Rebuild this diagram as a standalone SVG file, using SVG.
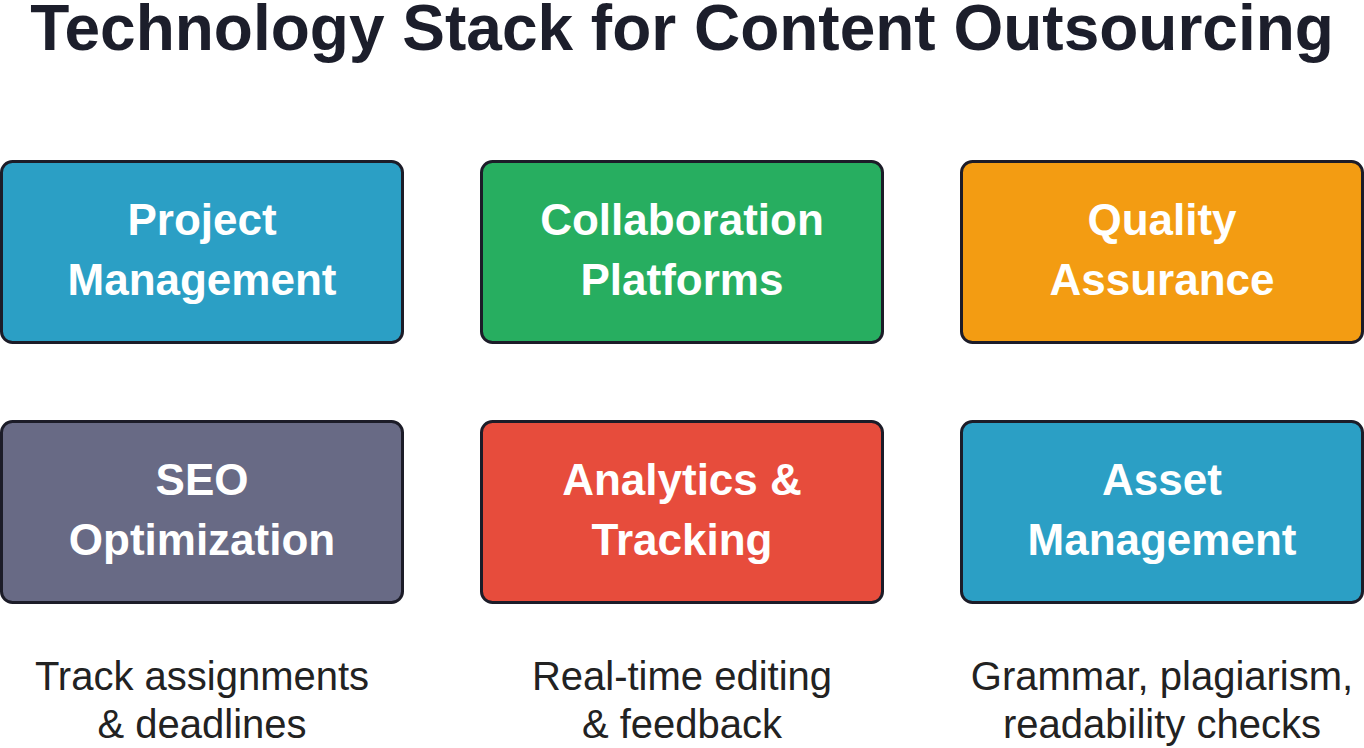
<svg xmlns="http://www.w3.org/2000/svg" width="1364" height="748" viewBox="0 0 1364 748">
<style>
.title{font-family:"Liberation Sans",Arial,sans-serif;font-weight:bold;font-size:64px;fill:#1c1e2b;text-anchor:middle}
.box{stroke:#1c1c28;stroke-width:3}
.lbl{font-family:"Liberation Sans",Arial,sans-serif;font-weight:bold;font-size:44px;fill:#ffffff;text-anchor:middle}
.note{font-family:"Liberation Sans",Arial,sans-serif;font-size:40px;fill:#222222;text-anchor:middle}
</style>
<rect width="1364" height="748" fill="#ffffff"/>
<text class="title" x="682" y="50">Technology Stack for Content Outsourcing</text>
<g id="connectors"/>
<g id="project-management">
<rect class="box" x="1.5" y="161.5" width="401" height="181" rx="11" fill="#2b9fc5"/>
<text class="lbl" x="202" y="235">Project</text>
<text class="lbl" x="202" y="295">Management</text>
</g>
<g id="collaboration-platforms">
<rect class="box" x="481.5" y="161.5" width="401" height="181" rx="11" fill="#27ae60"/>
<text class="lbl" x="682" y="235">Collaboration</text>
<text class="lbl" x="682" y="295">Platforms</text>
</g>
<g id="quality-assurance">
<rect class="box" x="961.5" y="161.5" width="401" height="181" rx="11" fill="#f39c12"/>
<text class="lbl" x="1162" y="235">Quality</text>
<text class="lbl" x="1162" y="295">Assurance</text>
</g>
<g id="seo-optimization">
<rect class="box" x="1.5" y="421.5" width="401" height="181" rx="11" fill="#686a85"/>
<text class="lbl" x="202" y="495">SEO</text>
<text class="lbl" x="202" y="555">Optimization</text>
</g>
<g id="analytics-tracking">
<rect class="box" x="481.5" y="421.5" width="401" height="181" rx="11" fill="#e74c3c"/>
<text class="lbl" x="682" y="495">Analytics &amp;</text>
<text class="lbl" x="682" y="555">Tracking</text>
</g>
<g id="asset-management">
<rect class="box" x="961.5" y="421.5" width="401" height="181" rx="11" fill="#2b9fc5"/>
<text class="lbl" x="1162" y="495">Asset</text>
<text class="lbl" x="1162" y="555">Management</text>
</g>
<g id="notes">
<text class="note" x="202" y="690">Track assignments</text>
<text class="note" x="202" y="738">&amp; deadlines</text>
<text class="note" x="682" y="690">Real-time editing</text>
<text class="note" x="682" y="738">&amp; feedback</text>
<text class="note" x="1162" y="690">Grammar, plagiarism,</text>
<text class="note" x="1162" y="738">readability checks</text>
</g>
</svg>
